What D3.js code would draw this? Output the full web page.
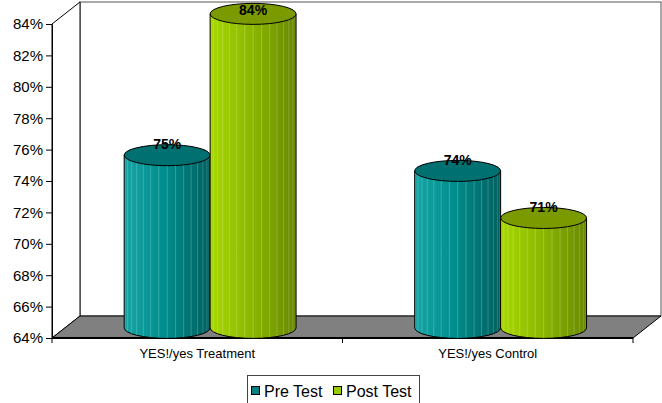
<!DOCTYPE html>
<html>
<head>
<meta charset="utf-8">
<script src="https://cdn.jsdelivr.net/npm/d3@7"></script>
<style>
  html, body { margin: 0; padding: 0; background: #fff; }
  svg { display: block; font-family: "Liberation Sans", Arial, sans-serif; }
</style>
</head>
<body>
<svg id="chart" width="662" height="403"></svg>
<script>
// Chart data
const categories = ["YES!/yes Treatment", "YES!/yes Control"];
const seriesNames = ["Pre Test", "Post Test"];
const preTest = [0.75, 0.74];
const postTest = [0.84, 0.71];
const yTicks = [0.64, 0.66, 0.68, 0.70, 0.72, 0.74, 0.76, 0.78, 0.80, 0.82, 0.84];

// Layout of the 3D box (front plane + depth offset)
const plotL = 52, plotR = 633, plotT = 24, plotB = 338;
const depthX = 28, depthY = -22;
const barDepth = 0.46; // cylinders sit slightly in front of the middle of the box

const palette = {
  "Pre Test":  { light: "#17a4a4", mid: "#008e8e", dark: "#005f5f", cap: "#007070", key: "#008080" },
  "Post Test": { light: "#a8d800", mid: "#8dba00", dark: "#688800", cap: "#7a9a00", key: "#99cc00" }
};

const svg = d3.select("#chart");
const defs = svg.append("defs");

seriesNames.forEach((s, i) => {
  const c = palette[s];
  const g = defs.append("linearGradient").attr("id", "grad" + i)
    .attr("x1", "0%").attr("x2", "100%").attr("y1", "0%").attr("y2", "0%");
  g.append("stop").attr("offset", "0%").attr("stop-color", c.light);
  g.append("stop").attr("offset", "45%").attr("stop-color", c.mid);
  g.append("stop").attr("offset", "100%").attr("stop-color", c.dark);
});

const y = d3.scaleLinear().domain([yTicks[0], yTicks[yTicks.length - 1]]).range([plotB, plotT]);
const x0 = d3.scaleBand().domain(categories).range([plotL, plotR]);
const x1 = d3.scaleBand().domain(seriesNames).range([0, x0.bandwidth()]).paddingInner(0).paddingOuter(0.69);

// Back wall
svg.append("rect")
  .attr("x", plotL + depthX).attr("y", plotT + depthY)
  .attr("width", plotR - plotL).attr("height", plotB - plotT)
  .attr("fill", "#fff").attr("stroke", "#555").attr("stroke-width", 1);

// Left wall
svg.append("polygon")
  .attr("points", [[plotL, plotT], [plotL + depthX, plotT + depthY], [plotL + depthX, plotB + depthY], [plotL, plotB]].join(" "))
  .attr("fill", "#fff").attr("stroke", "#000").attr("stroke-width", 1);

// Floor
svg.append("polygon")
  .attr("points", [[plotL, plotB], [plotL + depthX, plotB + depthY], [plotR + depthX, plotB + depthY], [plotR, plotB]].join(" "))
  .attr("fill", "#808080").attr("stroke", "#000").attr("stroke-width", 1);

// Front floor edge (category axis)
svg.append("line")
  .attr("x1", plotL).attr("x2", plotR).attr("y1", plotB).attr("y2", plotB)
  .attr("stroke", "#000").attr("stroke-width", 2);

// Category axis ticks at band boundaries
const xTickPos = categories.map(c => x0(c)).concat([plotR]);
svg.selectAll(".xtick").data(xTickPos).join("line")
  .attr("x1", d => d).attr("x2", d => d).attr("y1", plotB).attr("y2", plotB + 5)
  .attr("stroke", "#000");

// Value axis
const yAxis = d3.axisLeft(y).tickValues(yTicks).tickFormat(d3.format(".0%")).tickSize(6).tickPadding(3).tickSizeOuter(0);
const ya = svg.append("g").attr("transform", `translate(${plotL},0)`).call(yAxis);
ya.select(".domain").attr("stroke", "#000");
ya.selectAll(".tick line").attr("stroke", "#000");
ya.selectAll(".tick text").attr("font-size", 15).attr("fill", "#000")
  .attr("font-family", "Liberation Sans, Arial, sans-serif");

// Category labels
svg.selectAll(".cat").data(categories).join("text")
  .attr("x", d => x0(d) + x0.bandwidth() / 2)
  .attr("y", 358)
  .attr("text-anchor", "middle").attr("font-size", 13).attr("fill", "#000")
  .text(d => d);

// Cylinders
const rx = x1.bandwidth() / 2;
const ry = 10.5;
const series = [preTest, postTest];
const bars = [];
seriesNames.forEach((s, si) => {
  categories.forEach((c, ci) => {
    bars.push({ series: s, si, cat: c, value: series[si][ci] });
  });
});

const baseY = y(yTicks[0]) + depthY * barDepth;
const cyl = svg.selectAll(".cyl").data(bars).join("g").attr("class", "cyl");

cyl.each(function (d) {
  const g = d3.select(this);
  const cx = x0(d.cat) + x1(d.series) + rx + depthX * barDepth;
  const topY = y(d.value) + depthY * barDepth;
  const c = palette[d.series];

  g.append("path")
    .attr("d", `M${cx - rx},${topY} L${cx - rx},${baseY} A${rx},${ry} 0 0 0 ${cx + rx},${baseY} L${cx + rx},${topY} A${rx},${ry} 0 0 0 ${cx - rx},${topY} Z`)
    .attr("fill", `url(#grad${d.si})`).attr("stroke", "none");

  // facet edges of the rendered cylinder surface
  const facets = d3.range(1, 16).map(k => Math.PI * k / 16);
  g.selectAll("line.facet").data(facets).join("line")
    .attr("class", "facet")
    .attr("x1", a => cx - rx * Math.cos(a)).attr("x2", a => cx - rx * Math.cos(a))
    .attr("y1", topY).attr("y2", a => baseY + ry * Math.sin(a))
    .attr("stroke", "#fff").attr("stroke-opacity", a => 0.18 + 0.1 * Math.sin(a))
    .attr("stroke-width", 0.8);

  g.append("path")
    .attr("d", `M${cx - rx},${topY} L${cx - rx},${baseY} A${rx},${ry} 0 0 0 ${cx + rx},${baseY} L${cx + rx},${topY}`)
    .attr("fill", "none").attr("stroke", "#000").attr("stroke-width", 1);

  g.append("ellipse")
    .attr("cx", cx).attr("cy", topY).attr("rx", rx).attr("ry", ry)
    .attr("fill", c.cap).attr("stroke", "#000").attr("stroke-width", 1);

  g.append("text")
    .attr("x", cx).attr("y", Math.max(topY - ry + 4.5, 15))
    .attr("text-anchor", "middle").attr("font-size", 14).attr("font-weight", "bold")
    .attr("fill", "#000")
    .text(d3.format(".0%")(d.value));
});

// Legend
const lg = svg.append("g");
lg.append("rect").attr("x", 247.5).attr("y", 375.5).attr("width", 172).attr("height", 40)
  .attr("fill", "#fff").attr("stroke", "#444");
const legendX = [251, 333];
seriesNames.forEach((s, i) => {
  lg.append("rect").attr("x", legendX[i] + 0.5).attr("y", 386.5).attr("width", 8).attr("height", 8)
    .attr("fill", palette[s].key).attr("stroke", "#000");
  lg.append("text").attr("x", legendX[i] + 13).attr("y", 397)
    .attr("font-size", 16).attr("fill", "#000").text(s);
});
</script>
</body>
</html>
